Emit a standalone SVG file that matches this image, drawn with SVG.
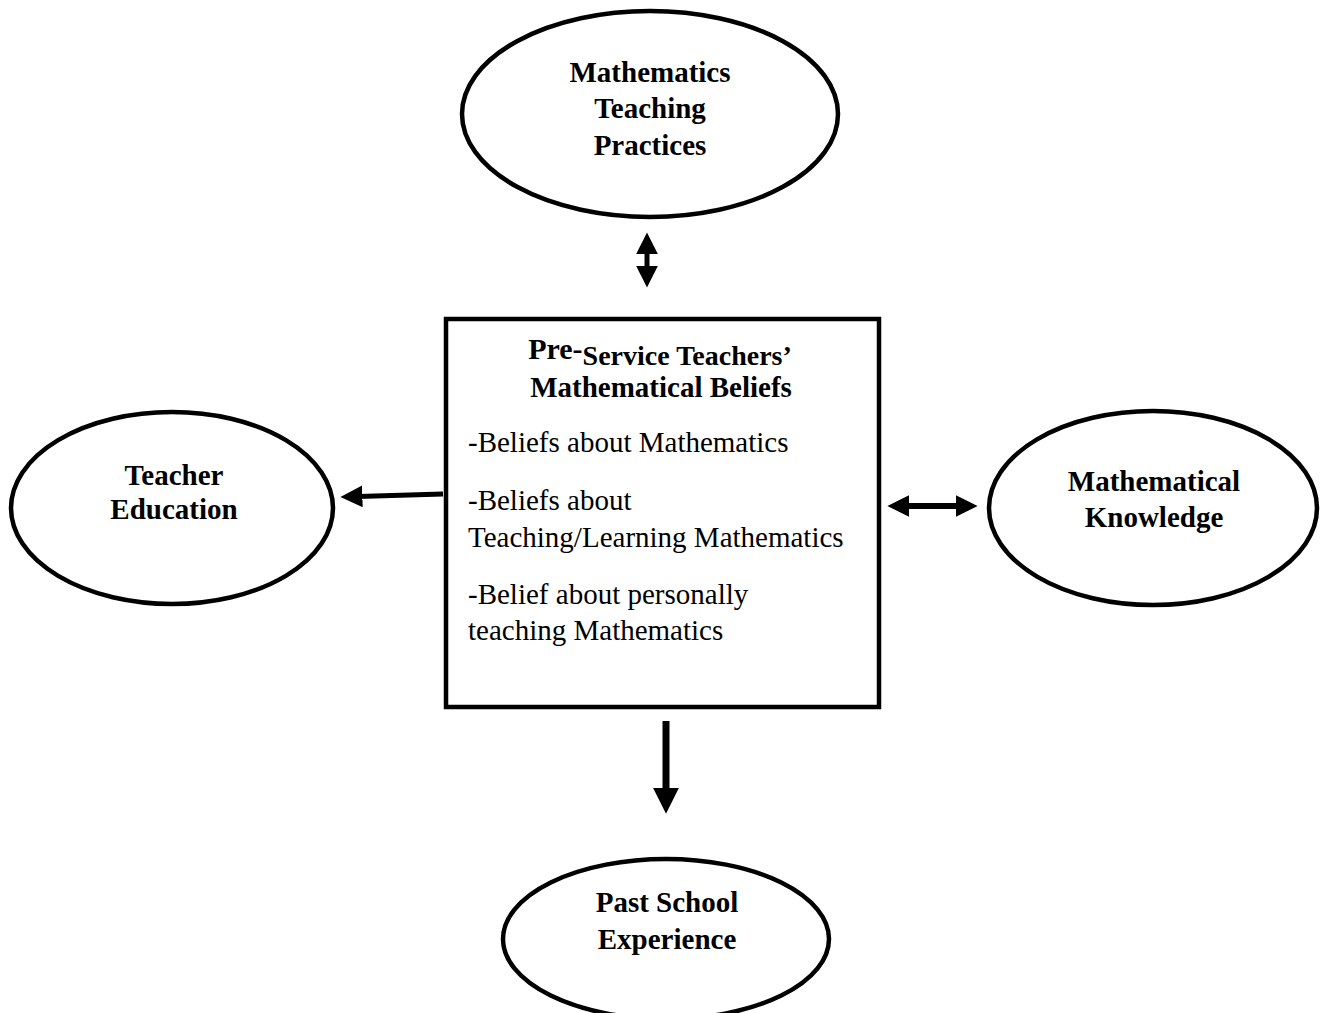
<svg xmlns="http://www.w3.org/2000/svg" width="1326" height="1013" viewBox="0 0 1326 1013">
  <style>
    .shape { fill: #fff; stroke: #000; stroke-width: 4.5; }
    .label { font-family: "Liberation Serif", "Times New Roman", serif; font-weight: bold; font-size: 29px; fill: #000; text-anchor: middle; }
    .body { font-family: "Liberation Serif", "Times New Roman", serif; font-size: 29px; fill: #000; }
    .wire { stroke: #000; fill: none; }
  </style>
  <defs>
    <marker id="headS" viewBox="0 0 10 10" refX="2" refY="5" markerWidth="22" markerHeight="22" markerUnits="userSpaceOnUse" orient="auto-start-reverse">
      <path d="M0,0 L10,5 L0,10 Z" fill="#000"/>
    </marker>
    <marker id="headL" viewBox="0 0 10 10" refX="2" refY="5" markerWidth="26" markerHeight="26" markerUnits="userSpaceOnUse" orient="auto">
      <path d="M0,0 L10,5 L0,10 Z" fill="#000"/>
    </marker>
  </defs>

  <rect width="1326" height="1013" fill="#fff"/>

  <g id="connectors">
    <line class="wire" x1="647" y1="250" x2="647" y2="270" stroke-width="5" marker-start="url(#headS)" marker-end="url(#headS)"/>
    <line class="wire" x1="443" y1="494" x2="358" y2="496.5" stroke-width="5" marker-end="url(#headS)"/>
    <line class="wire" x1="905" y1="506" x2="960" y2="506" stroke-width="6" marker-start="url(#headS)" marker-end="url(#headS)"/>
    <line class="wire" x1="666" y1="721" x2="666" y2="793" stroke-width="7" marker-end="url(#headL)"/>
  </g>

  <g id="node-practices">
    <ellipse class="shape" cx="650" cy="114" rx="188" ry="103"/>
    <text class="label" x="650" y="82">Mathematics</text>
    <text class="label" x="650" y="118">Teaching</text>
    <text class="label" x="650" y="155">Practices</text>
  </g>

  <g id="node-beliefs">
    <rect class="shape" x="446" y="319" width="433" height="388"/>
    <text class="label" x="660" y="365"><tspan font-size="30" dy="-6">Pre-</tspan><tspan font-size="28" dy="6">Service Teachers’</tspan></text>
    <text class="label" x="661" y="397">Mathematical Beliefs</text>
    <text class="body" x="468" y="452">-Beliefs about Mathematics</text>
    <text class="body" x="468" y="510">-Beliefs about</text>
    <text class="body" x="468" y="547">Teaching/Learning Mathematics</text>
    <text class="body" x="468" y="604">-Belief about personally</text>
    <text class="body" x="468" y="640">teaching Mathematics</text>
  </g>

  <g id="node-teacher-education">
    <ellipse class="shape" cx="172" cy="508" rx="161" ry="96"/>
    <text class="label" x="174" y="485">Teacher</text>
    <text class="label" x="174" y="519">Education</text>
  </g>

  <g id="node-knowledge">
    <ellipse class="shape" cx="1153" cy="508" rx="164" ry="97"/>
    <text class="label" x="1154" y="491">Mathematical</text>
    <text class="label" x="1154" y="527">Knowledge</text>
  </g>

  <g id="node-past-school">
    <ellipse class="shape" cx="666" cy="939" rx="163" ry="80"/>
    <text class="label" x="667" y="912">Past School</text>
    <text class="label" x="667" y="949">Experience</text>
  </g>
</svg>
